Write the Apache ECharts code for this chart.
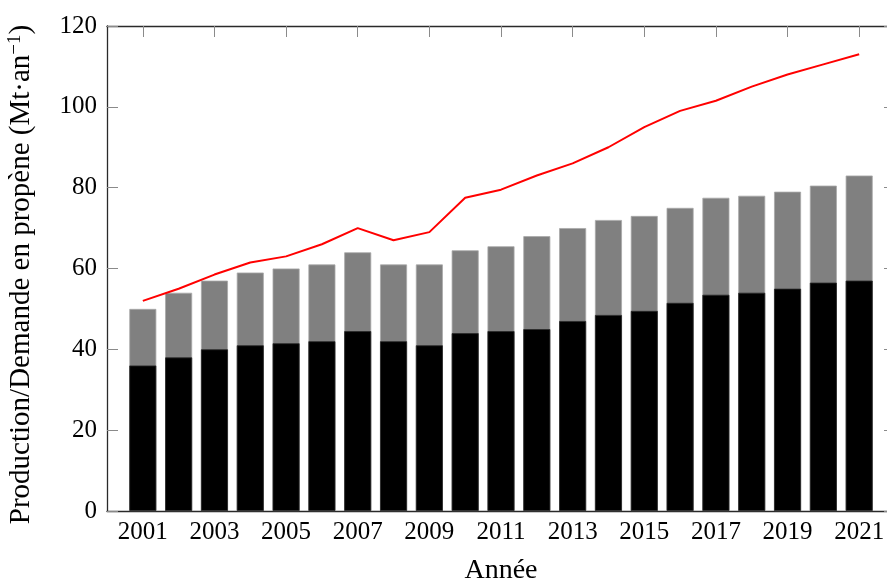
<!DOCTYPE html>
<html>
<head>
<meta charset="utf-8">
<script src="https://cdn.jsdelivr.net/npm/echarts@6/dist/echarts.min.js"></script>
<style>
  html, body { margin: 0; padding: 0; background: #fff; }
  #chart { width: 887px; height: 579px; }
</style>
</head>
<body>
<div id="chart"></div>
<script>
// Propylene production vs. demand, 2001–2021 (Mt per year)
const years = [2001, 2002, 2003, 2004, 2005, 2006, 2007, 2008, 2009, 2010, 2011,
               2012, 2013, 2014, 2015, 2016, 2017, 2018, 2019, 2020, 2021];
// full height of each bar (grey top edge)
const productionTotal = [50, 54, 57, 59, 60, 61, 64, 61, 61, 64.5, 65.5,
                         68, 70, 72, 73, 75, 77.5, 78, 79, 80.5, 83];
// lower (black) part of each bar
const productionBase = [36, 38, 40, 41, 41.5, 42, 44.5, 42, 41, 44, 44.5,
                        45, 47, 48.5, 49.5, 51.5, 53.5, 54, 55, 56.5, 57];
// demand curve (red)
const demand = [52, 55, 58.5, 61.5, 63, 66, 70, 67, 69, 77.5, 79.5,
                83, 86, 90, 95, 99, 101.5, 105, 108, 110.5, 113];
// labelled ticks on the year axis
const yearTicks = [2001, 2003, 2005, 2007, 2009, 2011, 2013, 2015, 2017, 2019, 2021];

const FONT = '"Liberation Serif", "Times New Roman", serif';
const FRAME = '#2a2a2a';
const TICK = '#8a8a8a';

const pair = (arr) => years.map((y, i) => [y, arr[i]]);

const chart = echarts.init(document.getElementById('chart'), null, { renderer: 'canvas' });

const baseX = {
  type: 'value', min: 2000, max: 2022,
  splitLine: { show: false },
  axisLine: { show: true, onZero: false, lineStyle: { color: FRAME, width: 1.3 } },
  axisTick: { show: true, inside: true, length: 11, customValues: yearTicks,
              lineStyle: { color: TICK, width: 1 } }
};
const baseY = {
  type: 'value', min: 0, max: 120, interval: 20,
  splitLine: { show: false },
  axisLine: { show: true, lineStyle: { color: FRAME, width: 1.3 } },
  axisTick: { show: true, inside: true, length: 11, lineStyle: { color: TICK, width: 1 } }
};

chart.setOption({
  animation: false,
  backgroundColor: '#ffffff',
  textStyle: { fontFamily: FONT },
  grid: { left: 107, top: 26, width: 788, height: 485, containLabel: false, outerBoundsMode: 'none' },
  xAxis: [
    Object.assign({}, baseX, {
      position: 'bottom',
      name: 'Année', nameLocation: 'middle', nameGap: 46,
      nameTextStyle: { fontFamily: FONT, fontSize: 28, color: '#000' },
      axisLabel: { show: true, customValues: yearTicks, margin: 9,
                   fontFamily: FONT, fontSize: 25, color: '#000',
                   formatter: (v) => String(v) }
    }),
    Object.assign({}, baseX, {
      position: 'top',
      axisLabel: { show: false }
    })
  ],
  yAxis: [
    Object.assign({}, baseY, {
      position: 'left',
      name: 'Production/Demande en propène (Mt·an{sup|−1})',
      nameLocation: 'middle', nameGap: 70, nameRotate: 90,
      nameTextStyle: {
        fontFamily: FONT, fontSize: 29, color: '#000', padding: [0, 12, 0, 0],
        rich: { sup: { fontFamily: FONT, fontSize: 19, color: '#000', verticalAlign: 'top', padding: [0, 0, 12, 0] } }
      },
      axisLabel: { show: true, margin: 10, fontFamily: FONT, fontSize: 25, color: '#000' }
    }),
    Object.assign({}, baseY, {
      position: 'right',
      axisLabel: { show: false }
    })
  ],
  series: [
    {
      name: 'Production (total)', type: 'bar',
      xAxisIndex: 0, yAxisIndex: 0,
      barWidth: 27,
      itemStyle: { color: '#808080', borderColor: '#a8a8a8', borderWidth: 0.8 },
      data: pair(productionTotal)
    },
    {
      name: 'Production (base)', type: 'bar',
      xAxisIndex: 0, yAxisIndex: 0,
      barWidth: 27, barGap: '-100%',
      itemStyle: { color: '#000000', borderColor: '#2a2a2a', borderWidth: 0.8 },
      data: pair(productionBase)
    },
    {
      name: 'Demande', type: 'line',
      xAxisIndex: 0, yAxisIndex: 0,
      symbol: 'none', z: 5,
      lineStyle: { color: '#ff0000', width: 2 },
      data: pair(demand)
    }
  ]
});
</script>
</body>
</html>
